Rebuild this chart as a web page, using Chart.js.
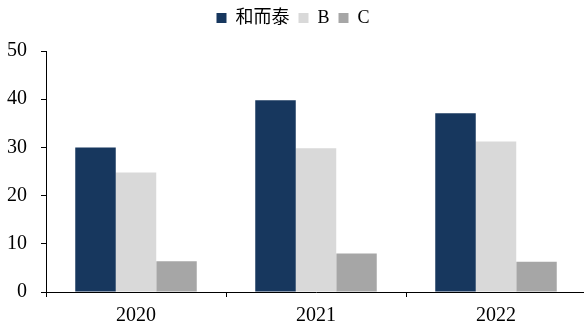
<!DOCTYPE html>
<html>
<head>
<meta charset="utf-8">
<script src="https://cdn.jsdelivr.net/npm/chart.js@4"></script>
<style>
  html, body { margin: 0; padding: 0; background: #fff; overflow: hidden; }
  #wrap { width: 586px; height: 327px; }
</style>
</head>
<body>
<div id="wrap"><canvas id="grafica"></canvas></div>
<script>
const years = ["2020", "2021", "2022"]
const serieHeT = [30.0, 39.8, 37.1]
const serieB = [24.8, 29.8, 31.2]
const serieC = [6.4, 8.0, 6.3]
const yTicks = [0, 10, 20, 30, 40, 50]

const fuente = "'Liberation Serif', 'Noto Sans CJK SC', serif"
const ctx = document.getElementById('grafica').getContext('2d')

// espacio extra debajo de la leyenda
const legendGap = {
    id: 'legendGap',
    beforeLayout(chart) {
        const lg = chart.legend
        if (lg && !lg._gapHecho) {
            const orig = lg.fit.bind(lg)
            lg.fit = function () { orig(); this.height += 14 }
            lg._gapHecho = true
        }
    }
}

new Chart(ctx, {
    type: 'bar',
    data: {
        labels: years,
        datasets: [
            { label: "和而泰", data: serieHeT, backgroundColor: "#17375E" },
            { label: "B", data: serieB, backgroundColor: "#D9D9D9" },
            { label: "C", data: serieC, backgroundColor: "#A6A6A6" }
        ]
    },
    plugins: [legendGap],
    options: {
        responsive: true,
        maintainAspectRatio: false,
        animation: false,
        datasets: {
            bar: { barPercentage: 1.0, categoryPercentage: 0.675 }
        },
        layout: { padding: { top: 0, right: 0, bottom: 0, left: 0 } },
        plugins: {
            tooltip: { enabled: false },
            legend: {
                position: 'top',
                labels: {
                    boxWidth: 10,
                    boxHeight: 10,
                    padding: 9,
                    color: '#000',
                    font: { family: fuente, size: 18 }
                }
            }
        },
        scales: {
            x: {
                grid: { display: true, drawOnChartArea: false, tickLength: 5, color: '#000' },
                border: { color: '#000' },
                ticks: { color: '#000', font: { family: fuente, size: 20 }, padding: 7 },
                afterFit: s => { s.height = 35 }
            },
            y: {
                min: 0,
                max: 50,
                afterBuildTicks: s => { s.ticks = yTicks.map(v => ({ value: v })) },
                grid: { display: true, drawOnChartArea: false, tickLength: 5, color: '#000' },
                border: { color: '#000' },
                ticks: { color: '#000', font: { family: fuente, size: 20 }, padding: 14 },
                afterFit: s => { s.width = 46 }
            }
        }
    }
})
</script>
</body>
</html>
